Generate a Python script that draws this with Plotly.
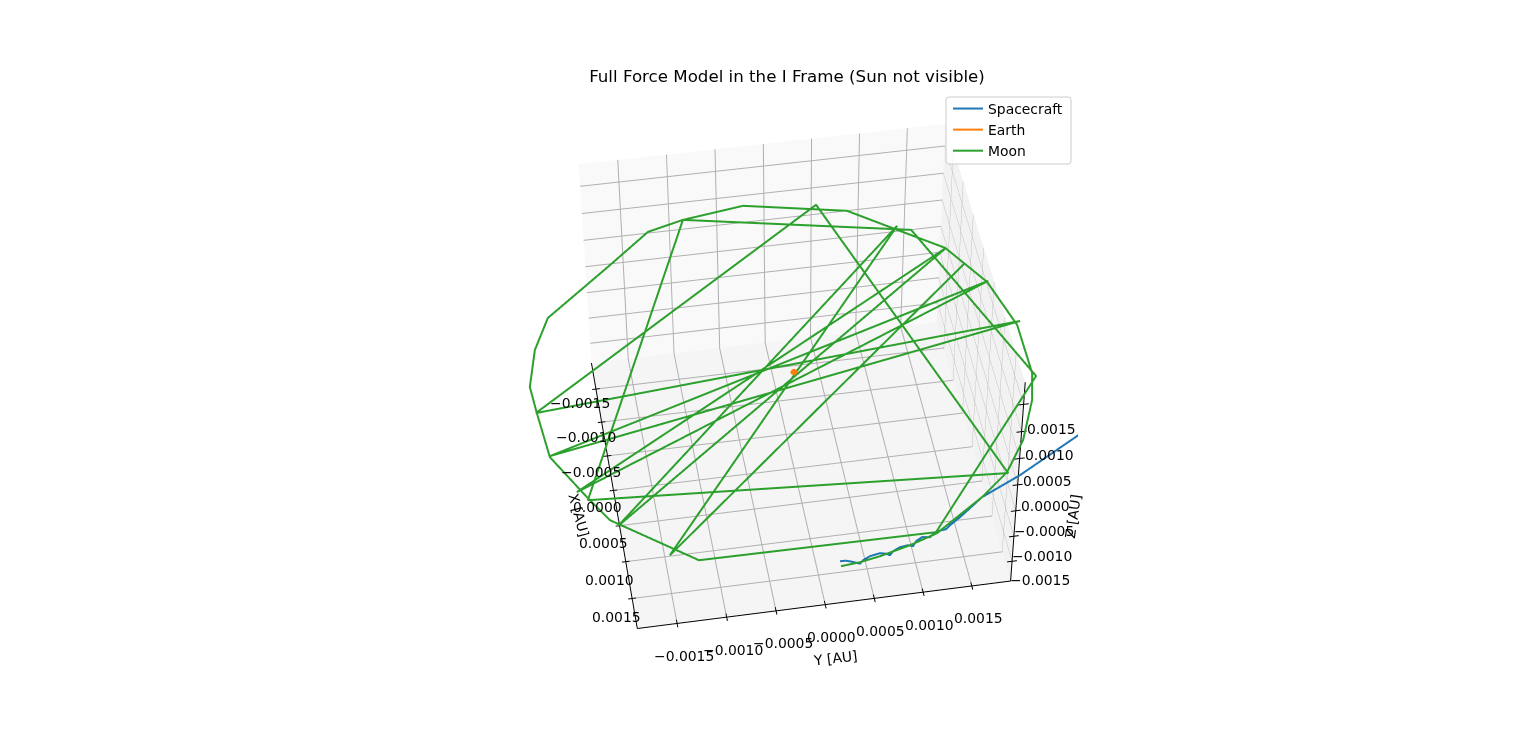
import plotly.graph_objects as go

moon_x = [0.002658,0.002638,0.002594,0.002503,0.002393,0.002002,0.001716,0.001316,0.000787,0.000412,-0.000296,-0.000978,-0.001563,-0.001923,-0.002306,-0.002568,-0.002453,-0.002327,-0.001858,-0.001195,-0.000749,-0.000228,0.000148,0.000773,0.001382,0.001705,0.002359,0.002379,0.000460,-0.001898,-0.002453,0.001409,0.001730,-0.002455,0.000147,-0.000349,0.000760,-0.000991,0.001285,-0.001561,0.001796,-0.001984,0.002250,-0.001301]
moon_y = [0.000010,0.000198,0.000401,0.000711,0.000997,0.001523,0.001834,0.002083,0.002292,0.002376,0.002376,0.002205,0.001877,0.001430,0.000960,-0.000123,-0.000788,-0.001180,-0.001666,-0.002372,-0.002555,-0.002662,-0.002632,-0.002571,-0.002267,-0.002091,-0.001316,0.000990,0.002406,0.001577,-0.000788,-0.002270,0.001841,0.000650,-0.002642,0.002419,-0.002569,0.002219,-0.002363,0.001887,-0.002025,0.001442,-0.001581,0.002038]
moon_z = [0.0] * len(moon_x)

craft_x = [0.002594,0.002597,0.002619,0.002657,0.002618,0.002578,0.002556,0.002572,0.002597,0.002552,0.002512,0.002500,0.002520,0.002462,0.002420,0.002433,0.002400,0.002369,0.002357,0.002312,0.002225,0.002002,0.001776,0.001350,0.000803]
craft_y = [0.000012,0.000069,0.000124,0.000195,0.000231,0.000306,0.000408,0.000463,0.000497,0.000535,0.000611,0.000692,0.000737,0.000778,0.000845,0.000921,0.000957,0.001012,0.001093,0.001142,0.001258,0.001523,0.001951,0.002624,0.003507]
craft_z = [0.0] * len(craft_x)

earth_x = [0.0, 0.00001, 0.0, -0.00001, 0.0]
earth_y = [0.00001, 0.0, -0.00001, 0.0, 0.00001]
earth_z = [0.0] * len(earth_x)

tick_vals = [-0.0015, -0.0010, -0.0005, 0.0, 0.0005, 0.0010, 0.0015]
tick_text = ["−0.0015", "−0.0010", "−0.0005", "0.0000", "0.0005", "0.0010", "0.0015"]
axis_min, axis_max = -0.0019, 0.0019
axis_range = [axis_min, axis_max]

FONT = "DejaVu Sans"
BLUE, ORANGE, GREEN = "#1f77b4", "#ff7f0e", "#2ca02c"
LINE_W = 4

def axis(bg):
    return dict(
        title=dict(text=""),
        range=axis_range, autorange=False,
        tickmode="array", tickvals=tick_vals, showticklabels=False,
        showgrid=True, gridcolor="#b0b0b0", gridwidth=2,
        showbackground=True, backgroundcolor=bg,
        showline=False, ticks="",
        zeroline=False, showspikes=False,
    )

fx, fy, fz = [], [], []
def seg(a, b):
    fx.extend([a[0], b[0], None]); fy.extend([a[1], b[1], None]); fz.extend([a[2], b[2], None])
seg((axis_min, axis_min, axis_min), (axis_max, axis_min, axis_min))
seg((axis_max, axis_min, axis_min), (axis_max, axis_max, axis_min))
seg((axis_max, axis_max, axis_min), (axis_max, axis_max, axis_max))
for t in tick_vals:
    seg((t, axis_min - 0.00004, axis_min), (t, axis_min + 0.00004, axis_min))
    seg((axis_max - 0.00005, t, axis_min), (axis_max + 0.00005, t, axis_min))
    seg((axis_max, axis_max - 0.00005, t), (axis_max, axis_max + 0.00005, t))

fig = go.Figure()
fig.add_trace(go.Scatter3d(x=fx, y=fy, z=fz, mode="lines", showlegend=False, hoverinfo="skip",
                           line=dict(color="black", width=2)))
fig.add_trace(go.Scatter3d(x=craft_x, y=craft_y, z=craft_z, mode="lines", showlegend=False,
                           name="Spacecraft", line=dict(color=BLUE, width=LINE_W)))
fig.add_trace(go.Scatter3d(x=moon_x, y=moon_y, z=moon_z, mode="lines", showlegend=False,
                           name="Moon", line=dict(color=GREEN, width=LINE_W)))
fig.add_trace(go.Scatter3d(x=earth_x, y=earth_y, z=earth_z, mode="markers", showlegend=False,
                           name="Earth", marker=dict(color=ORANGE, size=3, line=dict(width=0))))
for nm, col in (("Spacecraft", BLUE), ("Earth", ORANGE), ("Moon", GREEN)):
    fig.add_trace(go.Scatter3d(x=[None], y=[None], z=[None], mode="lines", name=nm,
                               line=dict(color=col, width=2)))

def ann(x, y, z, text, dx, dy, angle=0):
    return dict(x=x, y=y, z=z, text=text, showarrow=False, xshift=dx, yshift=-dy,
                textangle=angle, xanchor="center", yanchor="middle",
                font=dict(family=FONT, size=13.9, color="black"))

anns = []
for v, s in zip(tick_vals, tick_text):
    anns.append(ann(v, axis_min, axis_min, s, -16, 16.5 + 1667 * v))
    anns.append(ann(axis_max, v, axis_min, s, 6.5, 32.5))
    anns.append(ann(axis_max, axis_max, v, s, 28, 21.5 + 2000 * v))
anns.append(ann(0, axis_min, axis_min, "X [AU]", -35, 25, 75))
anns.append(ann(axis_max, 0, axis_min, "Y [AU]", 10, 53, -7))
anns.append(ann(axis_max, axis_max, 0, "Z [AU]", 55, 32, -82))

EYE = 8.4
fig.update_layout(
    width=1536, height=754, autosize=False,
    margin=dict(l=0, r=0, t=0, b=0),
    paper_bgcolor="white",
    font=dict(family=FONT, size=13.9, color="black"),
    title=dict(text="Full Force Model in the I Frame (Sun not visible)",
               x=787/1536, xanchor="center", y=1-76/754, yanchor="middle",
               font=dict(family=FONT, size=16.67, color="black")),
    legend=dict(x=948/1536, xanchor="left", y=1-93/754, yanchor="top",
                bgcolor="rgba(255,255,255,0)", borderwidth=0,
                font=dict(family=FONT, size=13.9, color="black")),
    shapes=[dict(type="path", xref="paper", yref="paper", layer="above",
                 path=" ".join([
                     f"M {949/1536} {1-97/754}", f"L {1068/1536} {1-97/754}",
                     f"Q {1071/1536} {1-97/754} {1071/1536} {1-100/754}",
                     f"L {1071/1536} {1-161/754}",
                     f"Q {1071/1536} {1-164/754} {1068/1536} {1-164/754}",
                     f"L {949/1536} {1-164/754}",
                     f"Q {946/1536} {1-164/754} {946/1536} {1-161/754}",
                     f"L {946/1536} {1-100/754}",
                     f"Q {946/1536} {1-97/754} {949/1536} {1-97/754} Z"]),
                 fillcolor="rgba(255,255,255,0.8)", line=dict(color="#cccccc", width=1))],
    scene=dict(
        domain=dict(x=[510/1536, 1078/1536], y=[10/754, 1.0]),
        aspectmode="manual", aspectratio=dict(x=1, y=1, z=0.75),
        xaxis=axis("#f9f9f9"),
        yaxis=axis("#f2f2f2"),
        zaxis=axis("#f5f5f5"),
        annotations=anns,
        camera=dict(
            up=dict(x=0, y=0, z=1),
            center=dict(x=0, y=0, z=0),
            eye=dict(x=0.697*EYE, y=-0.1166*EYE, z=0.707*EYE),
        ),
    ),
)

post = """
(function(){
  document.body.style.margin = '0';
  var gd = document.getElementById('{plot_id}');
  var patched = false;
  function off(){
    var s = gd._fullLayout && gd._fullLayout.scene && gd._fullLayout.scene._scene;
    if(!s || !s.glplot){ return; }
    var g = s.glplot;
    g.clipToBounds = false;
    g.fovy = 0.2351;
    (g.objects||[]).forEach(function(o){
      o.clipBounds = [[-1e9,-1e9,-1e9],[1e9,1e9,1e9]];
    });
    if(!patched && g.gl){
      patched = true;
      var gl = g.gl, en = gl.enable.bind(gl);
      gl.enable = function(c){ if(c === gl.DEPTH_TEST){ return; } en(c); };
      gl.disable(gl.DEPTH_TEST);
    }
    g.redraw && g.redraw();
  }
  off(); setTimeout(off, 200); setTimeout(off, 800);
})();
"""
fig.write_html("out.html", post_script=post, config=dict(displayModeBar=False))
